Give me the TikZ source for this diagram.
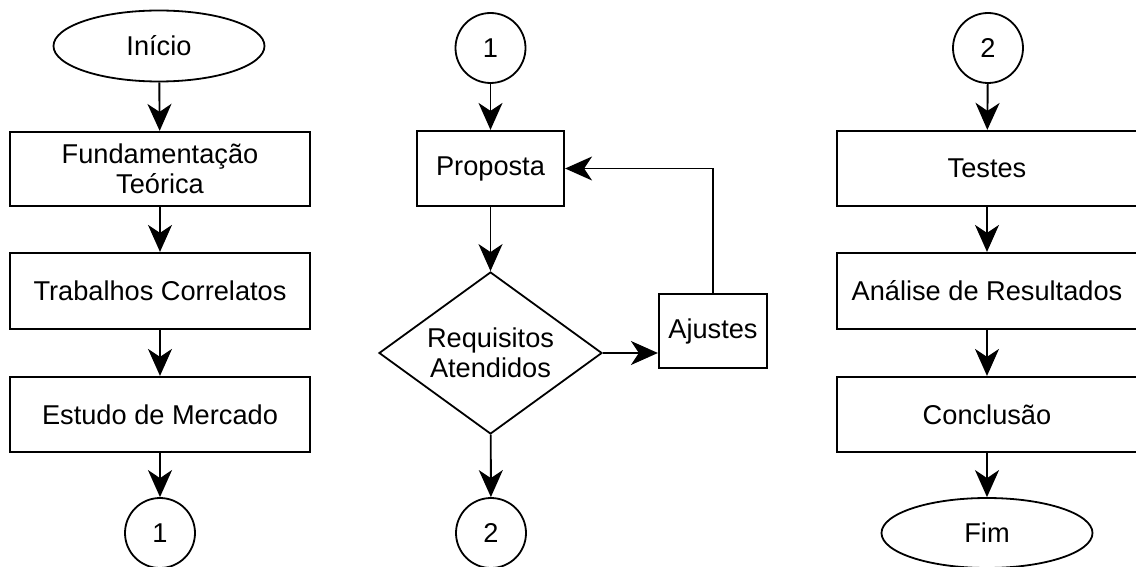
\documentclass[tikz,border=0pt]{standalone}
\usepackage{fontspec}
\setmainfont{Liberation Sans}
\usetikzlibrary{arrows.meta,shapes.geometric}
\begin{document}
\begin{tikzpicture}[x=1pt,y=-1pt,
  every node/.style={font=\fontsize{27.2}{30}\selectfont, align=center, inner sep=0pt},
  procbox/.style={draw, line width=2.2pt, rectangle, minimum height=75pt},
  termin/.style={draw, line width=1.8pt, ellipse, minimum width=211pt, minimum height=71pt},
  connector/.style={draw, line width=1.8pt, circle, minimum size=70pt},
  decision/.style={draw, line width=1.8pt, diamond, minimum width=223pt, minimum height=162pt, aspect=1.377},
  flow/.style={line width=1.9pt, -{Stealth[length=27pt, width=24pt, inset=8pt]}}
]
\useasboundingbox (0,0) rectangle (1136,567);
% left column
\node[termin] (inicio) at (159,46) {Início};
\node[procbox, minimum width=300pt, minimum height=74pt] (fund) at (160,169) {Fundamentação\\Teórica};
\node[procbox, minimum width=300pt, minimum height=76pt] (trab) at (160,291) {Trabalhos Correlatos};
\node[procbox, minimum width=300pt] (estudo) at (160,414.5) {Estudo de Mercado};
\node[connector] (c1a) at (160,533) {1};
% middle column
\node[connector] (c1b) at (490.5,48) {1};
\node[procbox, minimum width=147pt] (prop) at (490.5,168.5) {Proposta};
\node[decision] (req) at (490.5,353) {Requisitos\\Atendidos};
\node[procbox, minimum width=108pt, minimum height=74pt] (ajus) at (713,331) {Ajustes};
\node[connector] (c2a) at (491,533) {2};
% right column
\node[connector] (c2b) at (988,48) {2};
\node[procbox, minimum width=300pt] (testes) at (987,168.5) {Testes};
\node[procbox, minimum width=300pt, minimum height=76pt] (anal) at (987,291) {Análise de Resultados};
\node[procbox, minimum width=300pt] (concl) at (987,414.5) {Conclusão};
\node[termin, minimum height=70pt] (fim) at (987,533) {Fim};
% connectors
\draw[flow] (inicio) -- (fund);
\draw[flow] (fund) -- (trab);
\draw[flow] (trab) -- (estudo);
\draw[flow] (estudo) -- (c1a);
\draw[flow] (c1b) -- (prop);
\draw[flow] (prop) -- (req);
\draw[flow] (req.east) -- (req.east -| ajus.west);
\draw[flow] (ajus.north) |- (prop.east);
\draw[flow] (req) -- (c2a);
\draw[flow] (c2b) -- (testes);
\draw[flow] (testes) -- (anal);
\draw[flow] (anal) -- (concl);
\draw[flow] (concl) -- (fim);
\end{tikzpicture}
\end{document}
